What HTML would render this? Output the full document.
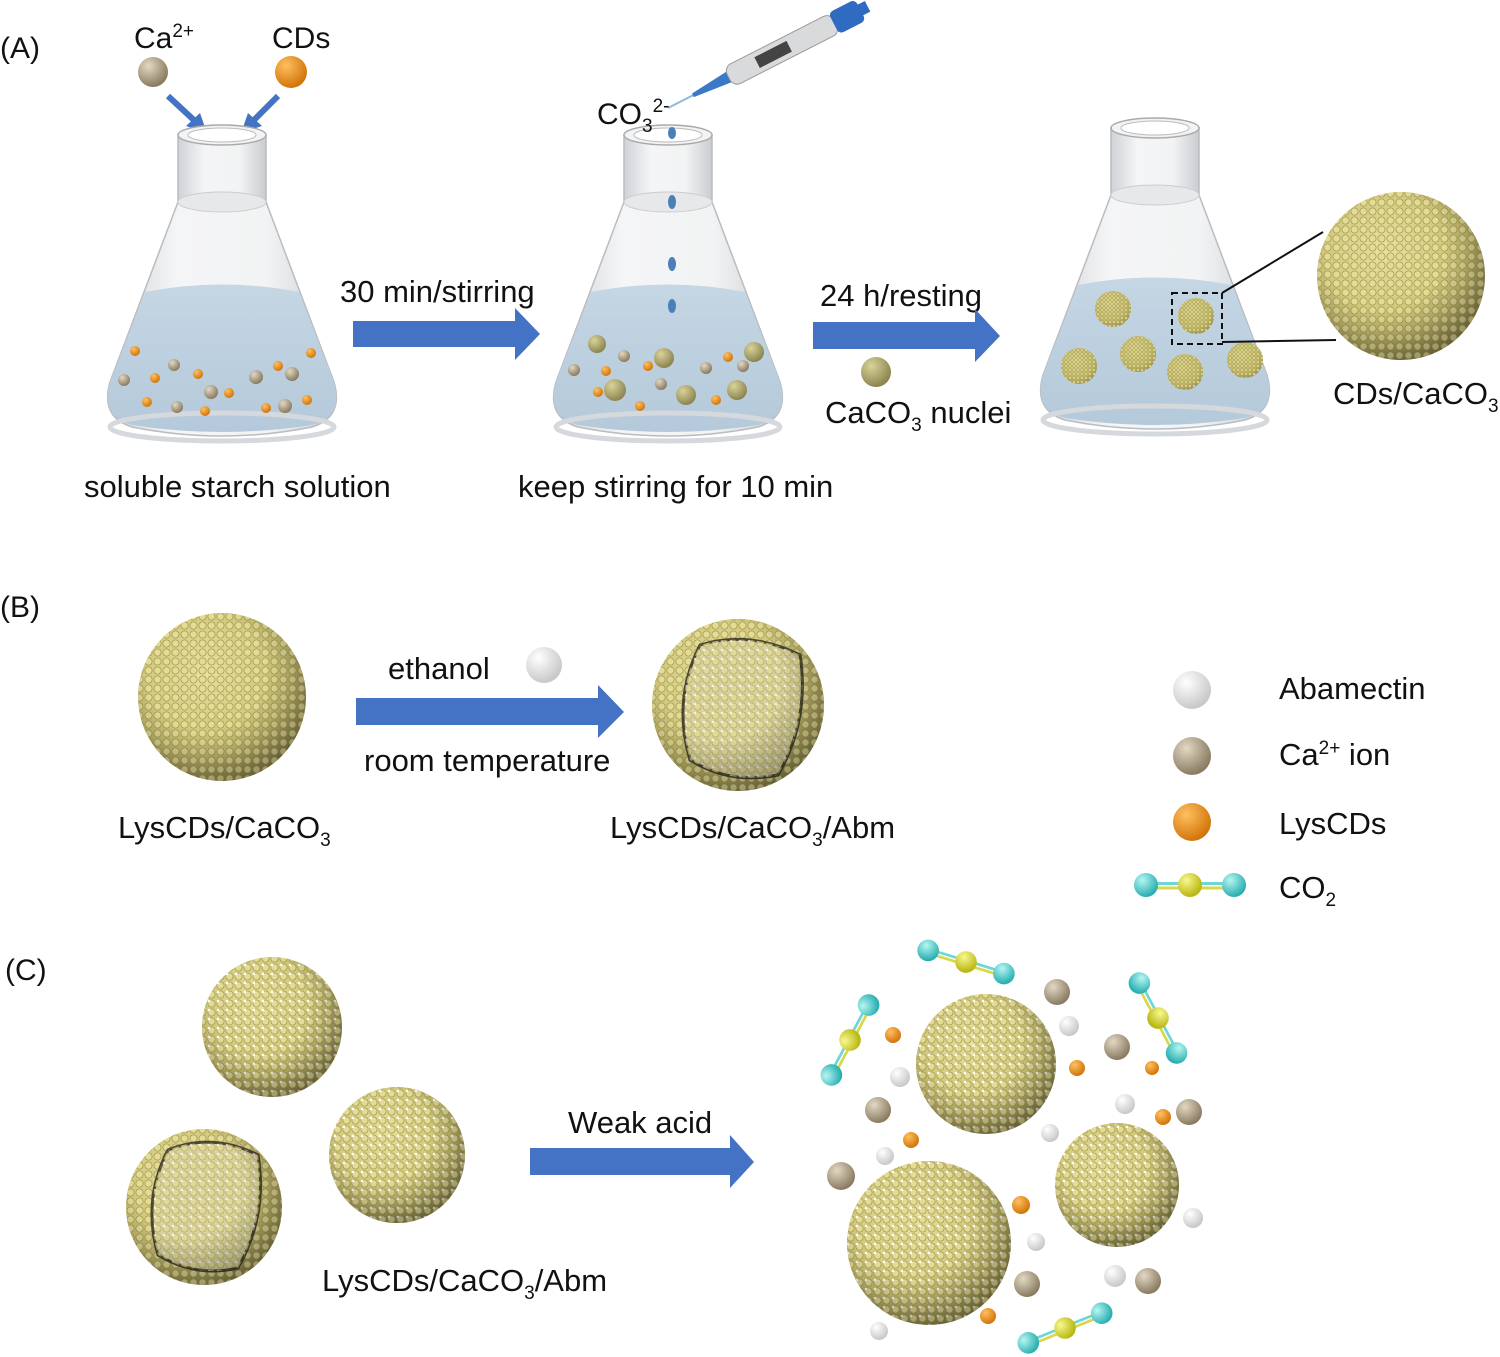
<!DOCTYPE html>
<html><head><meta charset="utf-8"><style>
body{margin:0;background:#fff}
svg{display:block}
text{font-family:"Liberation Sans",Arial,sans-serif;fill:#111}
</style></head><body>
<svg width="1500" height="1357" viewBox="0 0 1500 1357" xmlns="http://www.w3.org/2000/svg">
<defs>
<radialGradient id="gold" cx="40%" cy="35%" r="70%"><stop offset="0" stop-color="#e9e3a0"/><stop offset="0.7" stop-color="#c9bf6e"/><stop offset="1" stop-color="#8f864a"/></radialGradient>
<pattern id="dots" width="9" height="9" patternUnits="userSpaceOnUse"><circle cx="4.5" cy="4.5" r="3.6" fill="#e4dc95" stroke="#a59c58" stroke-width="0.8"/></pattern>
<pattern id="dotsw" width="9" height="9" patternUnits="userSpaceOnUse"><circle cx="4.5" cy="4.5" r="3.6" fill="#e4dc95" stroke="#a59c58" stroke-width="0.8"/><circle cx="2" cy="2" r="1.3" fill="#fff"/></pattern>
<pattern id="fine" width="4" height="4" patternUnits="userSpaceOnUse"><circle cx="2" cy="2" r="1.6" fill="#d8cf82" stroke="#9a924f" stroke-width="0.5"/></pattern>
<radialGradient id="shade" cx="40%" cy="35%" r="70%"><stop offset="0.5" stop-color="#000" stop-opacity="0"/><stop offset="1" stop-color="#000" stop-opacity="0.35"/></radialGradient>
<radialGradient id="tan" cx="35%" cy="30%" r="70%"><stop offset="0" stop-color="#e2d8c4"/><stop offset="1" stop-color="#8a7b61"/></radialGradient>
<radialGradient id="org" cx="35%" cy="30%" r="70%"><stop offset="0" stop-color="#ffc060"/><stop offset="1" stop-color="#d2750a"/></radialGradient>
<radialGradient id="wht" cx="35%" cy="30%" r="70%"><stop offset="0" stop-color="#fff"/><stop offset="1" stop-color="#c8c8c8"/></radialGradient>
<radialGradient id="olive" cx="35%" cy="30%" r="70%"><stop offset="0" stop-color="#d9d39a"/><stop offset="1" stop-color="#8c8550"/></radialGradient>
<radialGradient id="cyan" cx="35%" cy="30%" r="70%"><stop offset="0" stop-color="#b6f6f2"/><stop offset="1" stop-color="#28aeb0"/></radialGradient>
<radialGradient id="yel" cx="35%" cy="30%" r="70%"><stop offset="0" stop-color="#f8f890"/><stop offset="1" stop-color="#b8b60e"/></radialGradient>
<linearGradient id="glass" x1="0" x2="1"><stop offset="0" stop-color="#cfd2d6"/><stop offset="0.3" stop-color="#f4f5f6"/><stop offset="0.7" stop-color="#f2f3f4"/><stop offset="1" stop-color="#c9ccd0"/></linearGradient>
<linearGradient id="liq" x1="0" x2="0" y1="0" y2="1"><stop offset="0" stop-color="#c5d6e4"/><stop offset="1" stop-color="#b4c9da"/></linearGradient>
<g id="flask">
 <path d="M-44,75 L-112,255 Q-122,290 -90,300 Q0,318 90,300 Q122,290 112,255 L44,75 Z" fill="url(#glass)" stroke="#b9bcc0" stroke-width="1.5"/>
 <path d="M-77,165 Q0,150 77,165 L112,255 Q122,290 90,298 Q0,312 -90,298 Q-122,290 -112,255 Z" fill="url(#liq)"/>
 <ellipse cx="0" cy="300" rx="112" ry="14" fill="none" stroke="#d5d8dc" stroke-width="5"/>
 <rect x="-44" y="8" width="88" height="67" fill="url(#glass)" stroke="#b9bcc0" stroke-width="1.5"/>
 <ellipse cx="0" cy="75" rx="44" ry="10" fill="#e6e8ea" stroke="#ccc"/>
 <ellipse cx="0" cy="8" rx="44" ry="10" fill="#f2f3f4" stroke="#aaa" stroke-width="1.5"/>
 <ellipse cx="0" cy="8" rx="34" ry="7" fill="#fff" stroke="#bbb"/>
</g>
<g id="co2">
 <line x1="-46" y1="-1.5" x2="46" y2="-1.5" stroke="#6fd6d6" stroke-width="3"/><line x1="-46" y1="3" x2="46" y2="3" stroke="#d8d84a" stroke-width="3"/>
 <circle cx="-44" r="12" fill="url(#cyan)"/><circle cx="44" r="12" fill="url(#cyan)"/><circle r="12" fill="url(#yel)"/>
</g>
</defs>

<!-- (A) -->
<text x="0" y="58" font-size="30">(A)</text>
<text x="134" y="48" font-size="30">Ca<tspan font-size="19" dy="-11">2+</tspan></text>
<text x="272" y="48" font-size="30">CDs</text>
<circle cx="153" cy="72" r="15" fill="url(#tan)"/>
<circle cx="291" cy="72" r="16" fill="url(#org)"/>
<g stroke="#4472c4" stroke-width="6" fill="#4472c4">
<line x1="168" y1="96" x2="196" y2="122"/><polygon points="207,133 186,126 200,113" stroke="none"/>
<line x1="278" y1="96" x2="252" y2="122"/><polygon points="241,133 248,113 262,126" stroke="none"/>
</g>
<use href="#flask" x="222" y="127"/>
<g>
<circle cx="135" cy="351" r="5" fill="url(#org)"/><circle cx="174" cy="365" r="6" fill="url(#tan)"/><circle cx="124" cy="380" r="6" fill="url(#tan)"/><circle cx="155" cy="378" r="5" fill="url(#org)"/><circle cx="198" cy="374" r="5" fill="url(#org)"/><circle cx="211" cy="392" r="7" fill="url(#tan)"/><circle cx="229" cy="393" r="5" fill="url(#org)"/><circle cx="147" cy="402" r="5" fill="url(#org)"/><circle cx="177" cy="407" r="6" fill="url(#tan)"/><circle cx="205" cy="411" r="5" fill="url(#org)"/><circle cx="256" cy="377" r="7" fill="url(#tan)"/><circle cx="278" cy="366" r="5" fill="url(#org)"/><circle cx="292" cy="374" r="7" fill="url(#tan)"/><circle cx="311" cy="353" r="5" fill="url(#org)"/><circle cx="266" cy="408" r="5" fill="url(#org)"/><circle cx="285" cy="406" r="7" fill="url(#tan)"/><circle cx="307" cy="400" r="5" fill="url(#org)"/>
</g>
<text x="84" y="497" font-size="31">soluble starch solution</text>

<text x="340" y="302" font-size="31">30 min/stirring</text>
<polygon points="353,321 515,321 515,308 540,334 515,360 515,347 353,347" fill="#4472c4"/>

<use href="#flask" x="668" y="127"/>
<!-- pipette -->
<g transform="translate(668,108) rotate(-27)">
<line x1="0" y1="0" x2="30" y2="0" stroke="#8fb8da" stroke-width="2"/>
<polygon points="28,-2 70,-6 70,6 28,2" fill="#3a78c8"/>
<rect x="68" y="-11" width="120" height="22" rx="8" fill="#d8dadc" stroke="#999"/>
<rect x="100" y="-6" width="36" height="12" fill="#444"/>
<rect x="186" y="-12" width="30" height="24" rx="5" fill="#2f6bc0"/>
<rect x="214" y="-6" width="10" height="12" fill="#2f6bc0"/>
</g>
<text x="597" y="124" font-size="30">CO<tspan font-size="19" dy="8">3</tspan><tspan font-size="19" dy="-20">2-</tspan></text>
<g fill="#4a7fb8">
<ellipse cx="672" cy="133" rx="4" ry="6"/><ellipse cx="672" cy="202" rx="4" ry="7"/><ellipse cx="672" cy="264" rx="4" ry="7"/><ellipse cx="672" cy="306" rx="4" ry="7"/>
</g>
<g>
<circle cx="597" cy="344" r="9" fill="url(#olive)"/><circle cx="624" cy="356" r="6" fill="url(#tan)"/><circle cx="574" cy="370" r="6" fill="url(#tan)"/><circle cx="606" cy="371" r="5" fill="url(#org)"/><circle cx="664" cy="358" r="10" fill="url(#olive)"/><circle cx="648" cy="366" r="5" fill="url(#org)"/><circle cx="615" cy="390" r="11" fill="url(#olive)"/><circle cx="598" cy="392" r="5" fill="url(#org)"/><circle cx="661" cy="384" r="6" fill="url(#tan)"/><circle cx="686" cy="395" r="10" fill="url(#olive)"/><circle cx="706" cy="368" r="6" fill="url(#tan)"/><circle cx="728" cy="357" r="5" fill="url(#org)"/><circle cx="743" cy="366" r="6" fill="url(#tan)"/><circle cx="754" cy="352" r="10" fill="url(#olive)"/><circle cx="737" cy="390" r="10" fill="url(#olive)"/><circle cx="716" cy="400" r="5" fill="url(#org)"/><circle cx="640" cy="406" r="5" fill="url(#org)"/>
</g>
<text x="518" y="497" font-size="31">keep stirring for 10 min</text>

<text x="820" y="306" font-size="31">24 h/resting</text>
<polygon points="813,322 975,322 975,309 1000,336 975,362 975,349 813,349" fill="#4472c4"/>
<circle cx="876" cy="372" r="15" fill="url(#olive)"/>
<text x="825" y="423" font-size="31">CaCO<tspan font-size="19" dy="8">3</tspan><tspan dy="-8"> nuclei</tspan></text>

<use href="#flask" x="1155" y="120"/>
<g>
<circle cx="1113" cy="309" r="18" fill="url(#gold)"/><circle cx="1113" cy="309" r="18" fill="url(#fine)"/>
<circle cx="1196" cy="316" r="18" fill="url(#gold)"/><circle cx="1196" cy="316" r="18" fill="url(#fine)"/>
<circle cx="1138" cy="354" r="18" fill="url(#gold)"/><circle cx="1138" cy="354" r="18" fill="url(#fine)"/>
<circle cx="1079" cy="366" r="18" fill="url(#gold)"/><circle cx="1079" cy="366" r="18" fill="url(#fine)"/>
<circle cx="1185" cy="372" r="18" fill="url(#gold)"/><circle cx="1185" cy="372" r="18" fill="url(#fine)"/>
<circle cx="1245" cy="360" r="18" fill="url(#gold)"/><circle cx="1245" cy="360" r="18" fill="url(#fine)"/>
</g>
<rect x="1172" y="293" width="50" height="51" fill="none" stroke="#111" stroke-width="2" stroke-dasharray="6,4"/>
<line x1="1222" y1="293" x2="1323" y2="232" stroke="#111" stroke-width="2"/>
<line x1="1222" y1="342" x2="1336" y2="340" stroke="#111" stroke-width="2"/>
<circle cx="1401" cy="276" r="84" fill="url(#gold)"/><circle cx="1401" cy="276" r="84" fill="url(#dots)"/><circle cx="1401" cy="276" r="84" fill="url(#shade)"/>
<text x="1333" y="404" font-size="31">CDs/CaCO<tspan font-size="19" dy="8">3</tspan></text>

<!-- (B) -->
<text x="0" y="617" font-size="30">(B)</text>
<circle cx="222" cy="697" r="84" fill="url(#gold)"/><circle cx="222" cy="697" r="84" fill="url(#dots)"/><circle cx="222" cy="697" r="84" fill="url(#shade)"/>
<text x="388" y="679" font-size="31">ethanol</text>
<circle cx="544" cy="665" r="18" fill="url(#wht)"/>
<polygon points="356,698 598,698 598,685 624,712 598,738 598,725 356,725" fill="#4472c4"/>
<text x="364" y="771" font-size="31">room temperature</text>
<circle cx="738" cy="705" r="86" fill="url(#gold)"/><circle cx="738" cy="705" r="86" fill="url(#dots)"/>
<path d="M700,645 Q750,630 800,655 Q810,720 778,775 Q730,785 690,760 Q672,700 700,645Z" fill="#d9d3a0" stroke="#4a4530" stroke-width="3"/>
<path d="M700,645 Q750,630 800,655 Q810,720 778,775 Q730,785 690,760 Q672,700 700,645Z" fill="url(#dotsw)" opacity="0.7"/>
<circle cx="738" cy="705" r="86" fill="url(#shade)"/>
<text x="118" y="838" font-size="31">LysCDs/CaCO<tspan font-size="19" dy="8">3</tspan></text>
<text x="610" y="838" font-size="31">LysCDs/CaCO<tspan font-size="19" dy="8">3</tspan><tspan dy="-8">/Abm</tspan></text>

<circle cx="1192" cy="690" r="19" fill="url(#wht)"/><text x="1279" y="699" font-size="31">Abamectin</text>
<circle cx="1192" cy="756" r="19" fill="url(#tan)"/><text x="1279" y="765" font-size="31">Ca<tspan font-size="19" dy="-11">2+</tspan><tspan dy="11"> ion</tspan></text>
<circle cx="1192" cy="822" r="19" fill="url(#org)"/><text x="1279" y="834" font-size="31">LysCDs</text>
<use href="#co2" x="1190" y="885"/><text x="1279" y="898" font-size="31">CO<tspan font-size="19" dy="8">2</tspan></text>

<!-- (C) -->
<text x="5" y="980" font-size="30">(C)</text>
<circle cx="272" cy="1027" r="70" fill="url(#gold)"/><circle cx="272" cy="1027" r="70" fill="url(#dotsw)"/><circle cx="272" cy="1027" r="70" fill="url(#shade)"/>
<circle cx="397" cy="1155" r="68" fill="url(#gold)"/><circle cx="397" cy="1155" r="68" fill="url(#dotsw)"/><circle cx="397" cy="1155" r="68" fill="url(#shade)"/>
<circle cx="204" cy="1207" r="78" fill="url(#gold)"/><circle cx="204" cy="1207" r="78" fill="url(#dots)"/>
<path d="M168,1150 Q212,1132 258,1155 Q268,1215 238,1268 Q196,1278 158,1255 Q142,1200 168,1150Z" fill="#d9d3a0" stroke="#4a4530" stroke-width="3"/>
<path d="M168,1150 Q212,1132 258,1155 Q268,1215 238,1268 Q196,1278 158,1255 Q142,1200 168,1150Z" fill="url(#dotsw)" opacity="0.7"/>
<circle cx="204" cy="1207" r="78" fill="url(#shade)"/>
<text x="322" y="1291" font-size="31">LysCDs/CaCO<tspan font-size="19" dy="8">3</tspan><tspan dy="-8">/Abm</tspan></text>
<text x="568" y="1133" font-size="31">Weak acid</text>
<polygon points="530,1148 730,1148 730,1135 754,1162 730,1188 730,1175 530,1175" fill="#4472c4"/>

<circle cx="986" cy="1064" r="70" fill="url(#gold)"/><circle cx="986" cy="1064" r="70" fill="url(#dotsw)"/><circle cx="986" cy="1064" r="70" fill="url(#shade)"/>
<circle cx="1117" cy="1185" r="62" fill="url(#gold)"/><circle cx="1117" cy="1185" r="62" fill="url(#dotsw)"/><circle cx="1117" cy="1185" r="62" fill="url(#shade)"/>
<circle cx="929" cy="1243" r="82" fill="url(#gold)"/><circle cx="929" cy="1243" r="82" fill="url(#dotsw)"/><circle cx="929" cy="1243" r="82" fill="url(#shade)"/>
<use href="#co2" transform="translate(966,962) rotate(17) scale(0.9)"/>
<use href="#co2" transform="translate(850,1040) rotate(-62) scale(0.9)"/>
<use href="#co2" transform="translate(1158,1018) rotate(62) scale(0.9)"/>
<use href="#co2" transform="translate(1065,1328) rotate(-22) scale(0.9)"/>
<g>
<circle cx="1057" cy="992" r="13" fill="url(#tan)"/><circle cx="1069" cy="1026" r="10" fill="url(#wht)"/><circle cx="1117" cy="1047" r="13" fill="url(#tan)"/><circle cx="1077" cy="1068" r="8" fill="url(#org)"/><circle cx="1152" cy="1068" r="7" fill="url(#org)"/>
<circle cx="893" cy="1035" r="8" fill="url(#org)"/><circle cx="900" cy="1077" r="10" fill="url(#wht)"/><circle cx="878" cy="1110" r="13" fill="url(#tan)"/><circle cx="911" cy="1140" r="8" fill="url(#org)"/><circle cx="885" cy="1156" r="9" fill="url(#wht)"/><circle cx="841" cy="1176" r="14" fill="url(#tan)"/>
<circle cx="1125" cy="1104" r="10" fill="url(#wht)"/><circle cx="1163" cy="1117" r="8" fill="url(#org)"/><circle cx="1189" cy="1112" r="13" fill="url(#tan)"/><circle cx="1050" cy="1133" r="9" fill="url(#wht)"/><circle cx="1193" cy="1218" r="10" fill="url(#wht)"/>
<circle cx="1021" cy="1205" r="9" fill="url(#org)"/><circle cx="1036" cy="1242" r="9" fill="url(#wht)"/><circle cx="1027" cy="1284" r="13" fill="url(#tan)"/><circle cx="1115" cy="1276" r="11" fill="url(#wht)"/><circle cx="1148" cy="1281" r="13" fill="url(#tan)"/><circle cx="988" cy="1316" r="8" fill="url(#org)"/><circle cx="879" cy="1331" r="9" fill="url(#wht)"/>
</g>
</svg>
</body></html>
